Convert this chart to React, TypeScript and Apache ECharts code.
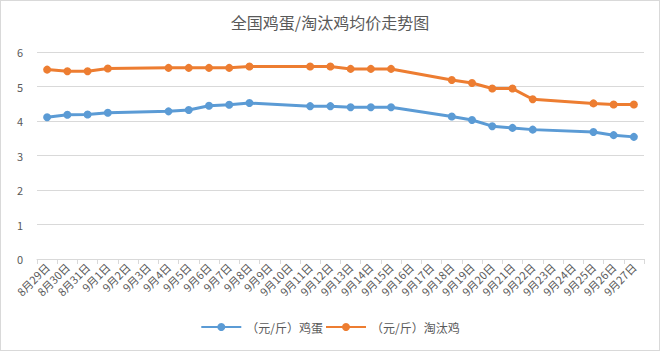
import React, { useEffect, useRef } from "react";
import * as echarts from "echarts";

const categories = [
  "8月29日", "8月30日", "8月31日", "9月1日", "9月2日", "9月3日", "9月4日", "9月5日",
  "9月6日", "9月7日", "9月8日", "9月9日", "9月10日", "9月11日", "9月12日", "9月13日",
  "9月14日", "9月15日", "9月16日", "9月17日", "9月18日", "9月19日", "9月20日", "9月21日",
  "9月22日", "9月23日", "9月24日", "9月25日", "9月26日", "9月27日",
];

const eggPrices = [
  4.11, 4.18, 4.19, 4.24, null, null, 4.28, 4.32, 4.44, 4.47, 4.52, null, null, 4.43, 4.43,
  4.4, 4.4, 4.4, null, null, 4.13, 4.03, 3.85, 3.8, 3.75, null, null, 3.68, 3.59, 3.54,
];

const henPrices = [
  5.49, 5.44, 5.44, 5.52, null, null, 5.54, 5.54, 5.54, 5.54, 5.58, null, null, 5.58, 5.58,
  5.51, 5.51, 5.51, null, null, 5.19, 5.1, 4.94, 4.94, 4.63, null, null, 4.51, 4.48, 4.48,
];

const seriesNames = ["（元/斤）鸡蛋", "（元/斤）淘汰鸡"];
const titleText = "全国鸡蛋/淘汰鸡均价走势图";

export default function App() {
  const ref = useRef<HTMLDivElement>(null);
  useEffect(() => {
    if (!ref.current) return;
    const chart = echarts.init(ref.current, undefined, { renderer: "svg" });
    const font = "'Noto Sans CJK SC', 'Microsoft YaHei', sans-serif";
    chart.setOption({
      animation: false,
      textStyle: { fontFamily: font },
      title: {
        text: titleText,
        left: "center",
        top: 8,
        textStyle: { fontSize: 16, fontWeight: "normal", color: "#595959", fontFamily: font },
      },
      legend: {
        bottom: 12,
        left: "center",
        itemWidth: 40,
        itemHeight: 10,
        itemGap: 2,
        textStyle: { fontSize: 12, color: "#595959", fontFamily: font },
        data: seriesNames,
      },
      grid: { left: 36, right: 15, top: 51, bottom: 91, containLabel: false },
      xAxis: {
        type: "category",
        data: categories,
        boundaryGap: true,
        axisLine: { lineStyle: { color: "#d9d9d9" } },
        axisTick: { show: true, lineStyle: { color: "#d9d9d9" }, length: 5 },
        axisLabel: { interval: 0, rotate: 45, fontSize: 11, color: "#595959", fontFamily: font, margin: 6 },
      },
      yAxis: {
        type: "value",
        min: 0,
        max: 6,
        interval: 1,
        axisLine: { show: false },
        axisTick: { show: false },
        axisLabel: { fontSize: 11, color: "#595959", fontFamily: font, margin: 14 },
        splitLine: { lineStyle: { color: "#d9d9d9" } },
      },
      series: [
        {
          name: seriesNames[0],
          type: "line",
          data: eggPrices,
          connectNulls: true,
          symbol: "circle",
          symbolSize: 8,
          itemStyle: { color: "#5B9BD5" },
          lineStyle: { width: 3, color: "#5B9BD5" },
        },
        {
          name: seriesNames[1],
          type: "line",
          data: henPrices,
          connectNulls: true,
          symbol: "circle",
          symbolSize: 8,
          itemStyle: { color: "#ED7D31" },
          lineStyle: { width: 3, color: "#ED7D31" },
        },
      ],
    });
    return () => chart.dispose();
  }, []);
  return (
    <div
      style={{
        position: "fixed",
        left: 0,
        top: 0,
        width: 660,
        height: 351,
        boxSizing: "border-box",
        border: "1px solid #d9d9d9",
        background: "#fff",
      }}
    >
      <div ref={ref} style={{ width: 658, height: 349 }} />
    </div>
  );
}
